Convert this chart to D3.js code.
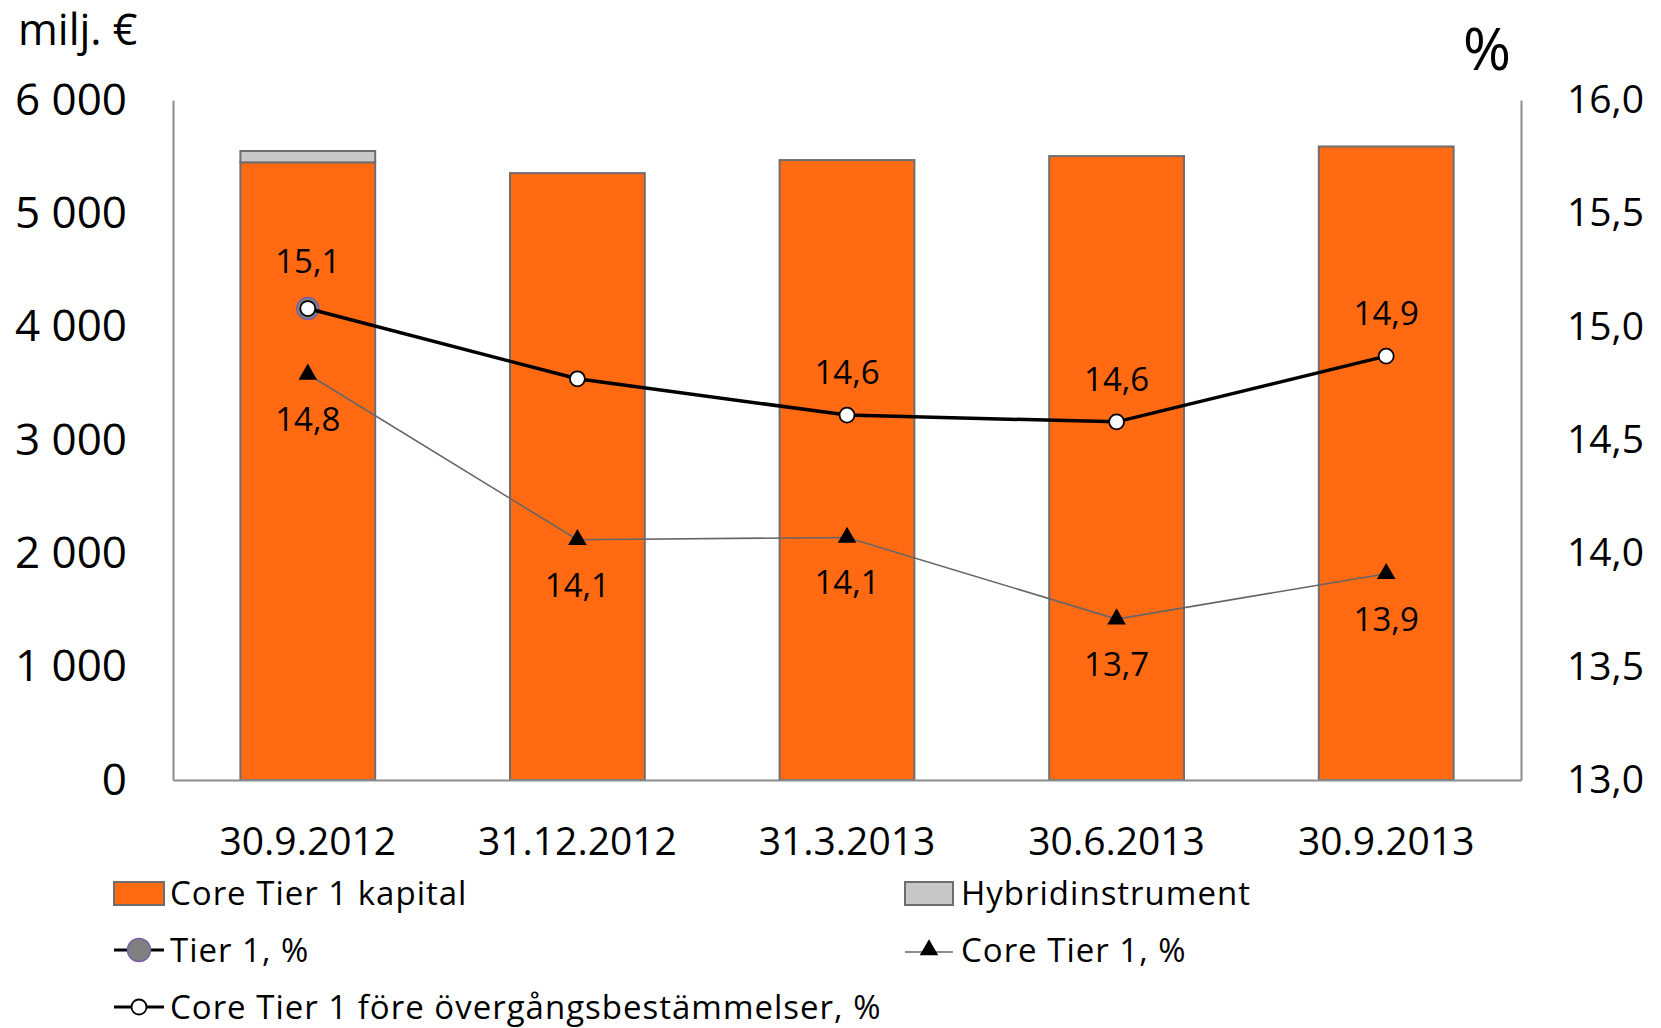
<!DOCTYPE html>
<html>
<head>
<meta charset="utf-8">
<script src="https://cdn.jsdelivr.net/npm/d3@7"></script>
<style>
  body { margin: 0; background: #fff; }
  text { font-family: "Open Sans", sans-serif; fill: #000; }
</style>
</head>
<body>
<div class="chart"></div>
<script>
// data
const dates = ["30.9.2012", "31.12.2012", "31.3.2013", "30.6.2013", "30.9.2013"]
const coreCapital = [5450, 5355, 5470, 5505, 5590]   // milj. €
const hybrid = [100, 0, 0, 0, 0]
const tier1 = [15.08]                                  // only first date
const coreTier1 = [14.79, 14.06, 14.07, 13.71, 13.91]
const coreTier1Fore = [15.08, 14.77, 14.61, 14.58, 14.87]
const foreShowLabel = [false, false, true, true, true]
const leftTicks = [0, 1000, 2000, 3000, 4000, 5000, 6000]
const rightTicks = [13, 13.5, 14, 14.5, 15, 15.5, 16]

const width = 1661
const height = 1028
const margin = ({ top: 100, right: 140, bottom: 248, left: 173 })
const font = "'Open Sans', sans-serif"

const locale = d3.formatLocale({ decimal: ",", thousands: " ", grouping: [3], currency: ["", " €"] })
const fmtLeft = locale.format(",")
const fmtRight = locale.format(".1f")

const svg = d3.select(".chart")
    .append("svg")
    .attr("width", width)
    .attr("height", height)

// scales
const xScale = d3.scaleBand()
    .domain(dates)
    .range([margin.left, width - margin.right])
    .paddingInner(0.5)
    .paddingOuter(0.25)

const yLeft = d3.scaleLinear()
    .domain([0, 6000])
    .range([height - margin.bottom, margin.top])

const yRight = d3.scaleLinear()
    .domain([13, 16])
    .range([height - margin.bottom, margin.top])

const cx = d => xScale(d) + xScale.bandwidth() / 2
const orange = "#ff6a13"
const barStroke = "#6e6e6e"

// bars: core capital + hybrid stacked on top
svg.append("g").selectAll("rect.core")
    .data(dates)
    .join("rect")
    .attr("class", "core")
    .attr("x", d => xScale(d))
    .attr("width", xScale.bandwidth())
    .attr("y", (d, i) => yLeft(coreCapital[i]))
    .attr("height", (d, i) => yLeft(0) - yLeft(coreCapital[i]))
    .attr("fill", orange)
    .attr("stroke", barStroke)
    .attr("stroke-width", 2)

svg.append("g").selectAll("rect.hybrid")
    .data(dates.filter((d, i) => hybrid[i] > 0))
    .join("rect")
    .attr("class", "hybrid")
    .attr("x", d => xScale(d))
    .attr("width", xScale.bandwidth())
    .attr("y", d => yLeft(coreCapital[dates.indexOf(d)] + hybrid[dates.indexOf(d)]))
    .attr("height", d => yLeft(coreCapital[dates.indexOf(d)]) - yLeft(coreCapital[dates.indexOf(d)] + hybrid[dates.indexOf(d)]))
    .attr("fill", "#c8c8c8")
    .attr("stroke", barStroke)
    .attr("stroke-width", 2)

// axes
const axisColor = "#8c8c8c"
const gLeft = svg.append("g")
    .attr("transform", "translate(" + margin.left + ",0)")
    .call(d3.axisLeft(yLeft).tickValues(leftTicks).tickFormat(fmtLeft).tickSize(0).tickPadding(46))
gLeft.select(".domain").attr("stroke", axisColor).attr("stroke-width", 2)
gLeft.selectAll("text").attr("font-size", 44).attr("font-family", font)

const gRight = svg.append("g")
    .attr("transform", "translate(" + (width - margin.right) + ",0)")
    .call(d3.axisRight(yRight).tickValues(rightTicks).tickFormat(fmtRight).tickSize(0).tickPadding(46))
gRight.select(".domain").attr("stroke", axisColor).attr("stroke-width", 2)
gRight.selectAll("text").attr("font-size", 39).attr("font-family", font)

const gBottom = svg.append("g")
    .attr("transform", "translate(0," + (height - margin.bottom) + ")")
    .call(d3.axisBottom(xScale).tickSize(0).tickPadding(47).tickSizeOuter(0))
gBottom.select(".domain").attr("stroke", axisColor).attr("stroke-width", 2)
gBottom.selectAll("text").attr("font-size", 39).attr("font-family", font)

// Core Tier 1 line (thin gray, triangles)
const line = (scale) => d3.line().x((d, i) => cx(dates[i])).y(d => scale(d))

svg.append("path")
    .datum(coreTier1)
    .attr("d", line(yRight))
    .attr("fill", "none")
    .attr("stroke", "#666")
    .attr("stroke-width", 1.6)

const tri = d3.symbol().type(d3.symbolTriangle).size(150)
svg.append("g").selectAll("path")
    .data(coreTier1)
    .join("path")
    .attr("d", tri)
    .attr("transform", (d, i) => "translate(" + cx(dates[i]) + "," + yRight(d) + ")")
    .attr("fill", "#000")

// Tier 1 marker (gray with purple edge)
svg.append("g").selectAll("circle")
    .data(tier1)
    .join("circle")
    .attr("cx", (d, i) => cx(dates[i]))
    .attr("cy", d => yRight(d))
    .attr("r", 11)
    .attr("fill", "#808080")
    .attr("stroke", "#7a5fa5")
    .attr("stroke-width", 1.5)

// Core Tier 1 before transitional rules (black line, white circles)
svg.append("path")
    .datum(coreTier1Fore)
    .attr("d", line(yRight))
    .attr("fill", "none")
    .attr("stroke", "#000")
    .attr("stroke-width", 3.5)

svg.append("g").selectAll("circle")
    .data(coreTier1Fore)
    .join("circle")
    .attr("cx", (d, i) => cx(dates[i]))
    .attr("cy", d => yRight(d))
    .attr("r", 7.5)
    .attr("fill", "#fff")
    .attr("stroke", "#000")
    .attr("stroke-width", 1.8)

// data labels
svg.append("g").selectAll("text")
    .data(tier1)
    .join("text")
    .attr("x", (d, i) => cx(dates[i]))
    .attr("y", d => yRight(d) - 36)
    .attr("text-anchor", "middle")
    .attr("font-size", 33)
    .text(d => fmtRight(d))

svg.append("g").selectAll("text")
    .data(coreTier1Fore.map((v, i) => ({ v, i })).filter(d => foreShowLabel[d.i]))
    .join("text")
    .attr("x", d => cx(dates[d.i]))
    .attr("y", d => yRight(d.v) - 31)
    .attr("text-anchor", "middle")
    .attr("font-size", 33)
    .text(d => fmtRight(d.v))

svg.append("g").selectAll("text")
    .data(coreTier1)
    .join("text")
    .attr("x", (d, i) => cx(dates[i]))
    .attr("y", d => yRight(d) + 57)
    .attr("text-anchor", "middle")
    .attr("font-size", 33)
    .text(d => fmtRight(d))

// unit titles
svg.append("text").attr("x", 18).attr("y", 45).attr("font-size", 43).text("milj. €")
svg.append("text").attr("x", 1463).attr("y", 70).attr("font-size", 58).text("%")

// legend
const legend = svg.append("g")
    .attr("font-size", 33)
    .attr("letter-spacing", 1)

// row 1
legend.append("rect").attr("x", 114).attr("y", 882).attr("width", 50).attr("height", 23)
    .attr("fill", orange).attr("stroke", barStroke).attr("stroke-width", 2)
legend.append("text").attr("x", 170).attr("y", 905).text("Core Tier 1 kapital")
legend.append("rect").attr("x", 905).attr("y", 882).attr("width", 48).attr("height", 23)
    .attr("fill", "#c8c8c8").attr("stroke", barStroke).attr("stroke-width", 2)
legend.append("text").attr("x", 961).attr("y", 905).text("Hybridinstrument")

// row 2
legend.append("line").attr("x1", 114).attr("x2", 164).attr("y1", 950).attr("y2", 950)
    .attr("stroke", "#000").attr("stroke-width", 3)
legend.append("circle").attr("cx", 139).attr("cy", 950).attr("r", 11.5)
    .attr("fill", "#808080").attr("stroke", "#7a5fa5").attr("stroke-width", 1.5)
legend.append("text").attr("x", 170).attr("y", 962).text("Tier 1, %")

legend.append("line").attr("x1", 905).attr("x2", 953).attr("y1", 952).attr("y2", 952)
    .attr("stroke", "#666").attr("stroke-width", 1.6)
legend.append("path").attr("d", tri).attr("transform", "translate(929,950)").attr("fill", "#000")
legend.append("text").attr("x", 961).attr("y", 962).text("Core Tier 1, %")

// row 3
legend.append("line").attr("x1", 114).attr("x2", 164).attr("y1", 1007).attr("y2", 1007)
    .attr("stroke", "#000").attr("stroke-width", 3)
legend.append("circle").attr("cx", 139).attr("cy", 1007).attr("r", 7.5)
    .attr("fill", "#fff").attr("stroke", "#000").attr("stroke-width", 1.8)
legend.append("text").attr("x", 170).attr("y", 1019).text("Core Tier 1 före övergångsbestämmelser, %")
</script>
</body>
</html>
